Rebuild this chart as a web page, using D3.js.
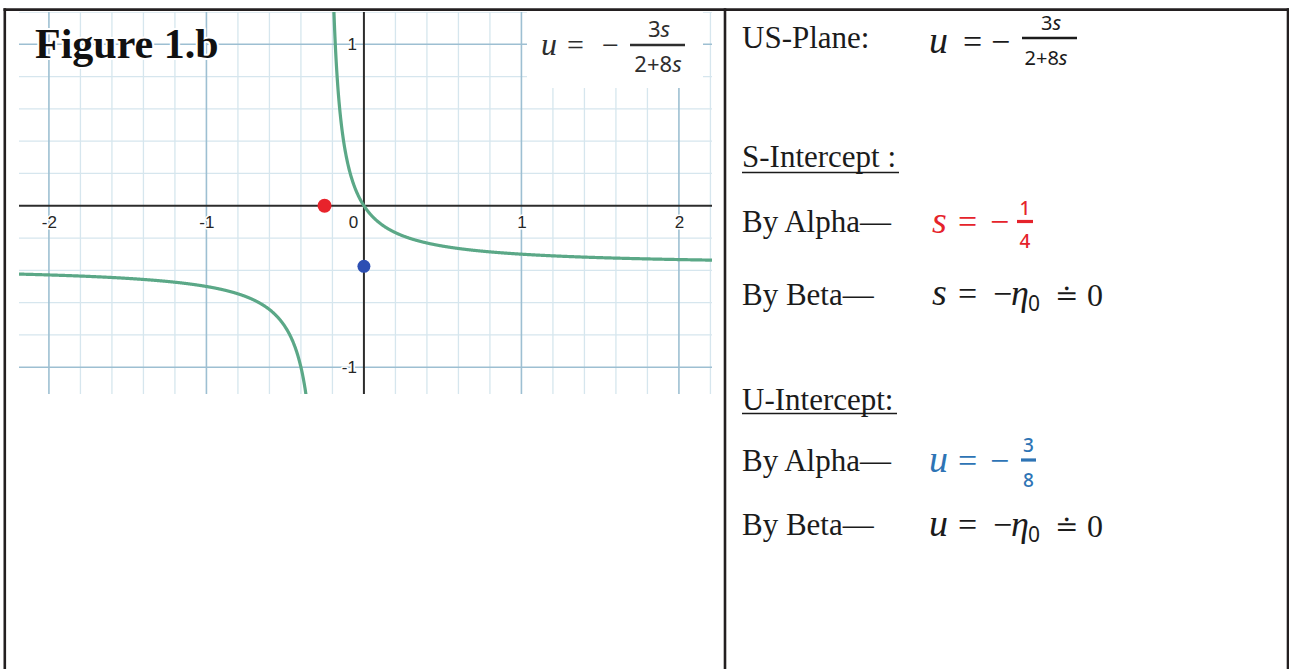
<!DOCTYPE html>
<html>
<head>
<meta charset="utf-8">
<script src="https://cdn.jsdelivr.net/npm/d3@7"></script>
<style>
  html, body { margin: 0; padding: 0; background: #fff; }
  svg { display: block; }
</style>
</head>
<body>
<svg id="fig" width="1289" height="669"></svg>
<script>
// ---- plot window and ticks ----
const sDomain = [-2.19, 2.21];
const uDomain = [-1.166, 1.2];
const sMajorTicks = [-2, -1, 0, 1, 2];
const uMajorTicks = [-1, 1];
const gridStep = 0.2;

// ---- curve u = -(a s) / (b + c s) ----
const numCoef = [3];      // 3s
const denCoef = [2, 8];   // 2 + 8s

// ---- intercepts found by the two methods ----
const sInterceptAlpha = [-1 / 4];
const uInterceptAlpha = [-3 / 8];

const COL = {
  text: "#1b1b1b",
  red: "#e5232b",
  blue: "#2e74b5",
  curve: "#5ba887",
  dotRed: "#e8232b",
  dotBlue: "#2d4fb3",
  gridMajor: "#9dbfd2",
  gridMinor: "#d6e6ee",
  axis: "#2c2c2c",
  border: "#231f20"
};
const SERIF = "'Liberation Serif', 'Times New Roman', serif";
const SANS = "'Liberation Sans', Arial, sans-serif";
const FRAC = "'Noto Sans', 'Open Sans', sans-serif";

const svg = d3.select("#fig");
const plot = { left: 19, right: 712, top: 12, bottom: 394 };

const x = d3.scaleLinear().domain(sDomain).range([plot.left, plot.right]);
const y = d3.scaleLinear().domain(uDomain).range([plot.bottom, plot.top]);

svg.append("defs").append("clipPath").attr("id", "plotClip")
  .append("rect")
  .attr("x", plot.left).attr("y", plot.top)
  .attr("width", plot.right - plot.left).attr("height", plot.bottom - plot.top);

const plotG = svg.append("g").attr("clip-path", "url(#plotClip)");

// ---- grid ----
const sLines = d3.range(-12, 13).map(i => +(i * gridStep).toFixed(2))
  .filter(v => v >= sDomain[0] && v <= sDomain[1]);
const uLines = d3.range(-6, 7).map(i => +(i * gridStep).toFixed(2))
  .filter(v => v >= uDomain[0] && v <= uDomain[1]);
const isMajor = v => Math.abs(v - Math.round(v)) < 1e-6;

const gridG = plotG.append("g");
gridG.selectAll("line.vmin").data(sLines.filter(v => !isMajor(v))).join("line")
  .attr("x1", d => x(d)).attr("x2", d => x(d))
  .attr("y1", plot.top).attr("y2", plot.bottom)
  .attr("stroke", COL.gridMinor).attr("stroke-width", 1.3);
gridG.selectAll("line.hmin").data(uLines.filter(v => !isMajor(v))).join("line")
  .attr("y1", d => y(d)).attr("y2", d => y(d))
  .attr("x1", plot.left).attr("x2", plot.right)
  .attr("stroke", COL.gridMinor).attr("stroke-width", 1.3);
gridG.selectAll("line.vmaj").data(sLines.filter(v => isMajor(v) && v !== 0)).join("line")
  .attr("x1", d => x(d)).attr("x2", d => x(d))
  .attr("y1", plot.top).attr("y2", plot.bottom)
  .attr("stroke", COL.gridMajor).attr("stroke-width", 1.6);
gridG.selectAll("line.hmaj").data(uLines.filter(v => isMajor(v) && v !== 0)).join("line")
  .attr("y1", d => y(d)).attr("y2", d => y(d))
  .attr("x1", plot.left).attr("x2", plot.right)
  .attr("stroke", COL.gridMajor).attr("stroke-width", 1.6);

// white panel behind the formula in the corner
plotG.append("rect")
  .attr("x", 527).attr("y", plot.top).attr("width", 176).attr("height", 76)
  .attr("fill", "#fff");

// ---- axes ----
plotG.append("line")
  .attr("x1", plot.left).attr("x2", plot.right)
  .attr("y1", y(0)).attr("y2", y(0))
  .attr("stroke", COL.axis).attr("stroke-width", 2);
plotG.append("line")
  .attr("x1", x(0)).attr("x2", x(0))
  .attr("y1", plot.top).attr("y2", plot.bottom)
  .attr("stroke", COL.axis).attr("stroke-width", 2);

// ---- curve, two branches either side of the pole ----
const u = s => -(numCoef[0] * s) / (denCoef[0] + denCoef[1] * s);
const pole = -denCoef[0] / denCoef[1];
const step = 0.002;
const leftBranch = d3.range(sDomain[0], pole - step / 2, step)
  .map(s => [s, u(s)]).filter(p => Math.abs(p[1]) < 4);
const rightBranch = d3.range(pole + step, sDomain[1] + step, step)
  .map(s => [s, u(s)]).filter(p => Math.abs(p[1]) < 4);
const line = d3.line().x(d => x(d[0])).y(d => y(d[1]));
plotG.selectAll("path.curve").data([leftBranch, rightBranch]).join("path")
  .attr("d", line)
  .attr("fill", "none")
  .attr("stroke", COL.curve)
  .attr("stroke-width", 3.2)
  .attr("stroke-linejoin", "round");

// ---- intercept points ----
plotG.selectAll("circle.sInt").data(sInterceptAlpha).join("circle")
  .attr("cx", d => x(d)).attr("cy", y(0)).attr("r", 7)
  .attr("fill", COL.dotRed);
plotG.selectAll("circle.uInt").data(uInterceptAlpha).join("circle")
  .attr("cx", x(0)).attr("cy", d => y(d)).attr("r", 6.5)
  .attr("fill", COL.dotBlue);

// ---- tick labels ----
const tickStyle = sel => sel
  .style("font-family", SANS).style("font-size", "17px")
  .style("fill", "#262626")
  .style("stroke", "#fff").style("stroke-width", "3px")
  .style("stroke-linejoin", "round").style("paint-order", "stroke");

const xAxisG = svg.append("g")
  .attr("transform", `translate(0,${y(0)})`)
  .call(d3.axisBottom(x).tickValues(sMajorTicks).tickSize(0).tickPadding(10)
    .tickFormat(d => String(d)));
xAxisG.select(".domain").remove();
xAxisG.selectAll("text").call(tickStyle);
xAxisG.selectAll(".tick").filter(d => d === 0).select("text").attr("dx", -11);

const yAxisG = svg.append("g")
  .attr("transform", `translate(${x(0)},0)`)
  .call(d3.axisLeft(y).tickValues(uMajorTicks).tickSize(0).tickPadding(7)
    .tickFormat(d => String(d)));
yAxisG.select(".domain").remove();
yAxisG.selectAll("text").call(tickStyle);

// ---- figure title ----
svg.append("text")
  .attr("x", 35).attr("y", 58)
  .attr("font-family", SERIF).attr("font-weight", "bold").attr("font-size", 42)
  .attr("fill", "#111")
  .text("Figure 1.b")
  .call(sel => sel.attr("stroke", "#fff").attr("stroke-width", 4)
    .attr("stroke-linejoin", "round").attr("paint-order", "stroke"));

// ---- helpers for typeset math ----
function put(xp, yp, str, o = {}) {
  return svg.append("text")
    .attr("x", xp).attr("y", yp)
    .attr("font-family", o.family || SERIF)
    .attr("font-size", o.size || 31)
    .attr("font-style", o.italic ? "italic" : "normal")
    .attr("font-weight", o.weight || "normal")
    .attr("text-anchor", o.anchor || "start")
    .attr("fill", o.color || COL.text)
    .text(str);
}
function fracText(xp, yp, parts, o) {
  // parts: [[text, italic], ...]
  const t = svg.append("text")
    .attr("x", xp).attr("y", yp)
    .attr("font-family", FRAC)
    .attr("font-size", o.size)
    .attr("font-weight", o.weight || "normal")
    .attr("text-anchor", o.anchor || "middle")
    .attr("fill", o.color || COL.text);
  parts.forEach(([s, it]) => t.append("tspan")
    .attr("font-style", it ? "italic" : "normal").text(s));
  return t;
}
function bar(x0, x1, yb, color, w) {
  svg.append("line")
    .attr("x1", x0).attr("x2", x1).attr("y1", yb).attr("y2", yb)
    .attr("stroke", color || COL.text).attr("stroke-width", w || 2.4);
}

// ---- formula inside the plot ----
const gEq = "#2e2e2e";
put(541, 55, "u", { italic: true, size: 32, color: gEq });
put(567, 55, "=", { size: 30, color: gEq });
put(602, 55, "\u2212", { size: 30, color: gEq });
bar(630, 685, 45, gEq, 2.6);
fracText(659, 37, [["3", false], ["s", true]], { size: 22, color: gEq });
fracText(658, 72, [["2+8", false], ["s", true]], { size: 22, color: gEq });

// ---- side panel ----
const LX = 742;

put(LX, 48, "US-Plane:");
put(929, 53, "u", { italic: true, size: 38 });
put(963, 53, "=", { size: 34 });
put(991, 53, "\u2212", { size: 34 });
bar(1022, 1077, 38, COL.text, 2.6);
fracText(1051, 30, [["3", false], ["s", true]], { size: 20 });
fracText(1046, 65, [["2+8", false], ["s", true]], { size: 20 });

put(LX, 167, "S-Intercept :");
svg.append("line").attr("x1", LX).attr("x2", 899).attr("y1", 172.5).attr("y2", 172.5)
  .attr("stroke", COL.text).attr("stroke-width", 1.5);

put(LX, 232, "By Alpha\u2014");
put(932, 233, "s", { italic: true, size: 38, color: COL.red });
put(958, 233, "=", { size: 34, color: COL.red });
put(990, 233, "\u2212", { size: 34, color: COL.red });
bar(1017, 1033, 221.5, COL.red, 3.2);
fracText(1025, 215, [["1", false]], { size: 19, color: COL.red, weight: 500 });
fracText(1025, 248, [["4", false]], { size: 19, color: COL.red, weight: 500 });

put(LX, 305, "By Beta\u2014");
put(932, 305, "s", { italic: true, size: 38 });
put(958, 305, "=", { size: 34 });
put(993, 305, "\u2212", { size: 34 });
put(1011, 305, "\u03B7", { italic: true, size: 36 });
put(1028, 311, "0", { size: 21, family: FRAC });
put(1055, 305, "\u2250", { size: 28, family: "'DejaVu Serif', serif" });
put(1087, 306, "0", { size: 32 });

put(LX, 410, "U-Intercept:");
svg.append("line").attr("x1", LX).attr("x2", 897).attr("y1", 413.5).attr("y2", 413.5)
  .attr("stroke", COL.text).attr("stroke-width", 1.5);

put(LX, 471, "By Alpha\u2014");
put(929, 472, "u", { italic: true, size: 38, color: COL.blue });
put(958, 472, "=", { size: 34, color: COL.blue });
put(990, 472, "\u2212", { size: 34, color: COL.blue });
bar(1021, 1036, 460, COL.blue, 3.2);
fracText(1028.5, 452, [["3", false]], { size: 19, color: COL.blue, weight: 500 });
fracText(1028.5, 487, [["8", false]], { size: 19, color: COL.blue, weight: 500 });

put(LX, 535, "By Beta\u2014");
put(929, 536, "u", { italic: true, size: 38 });
put(958, 536, "=", { size: 34 });
put(993, 536, "\u2212", { size: 34 });
put(1011, 536, "\u03B7", { italic: true, size: 36 });
put(1028, 542, "0", { size: 21, family: FRAC });
put(1055, 536, "\u2250", { size: 28, family: "'DejaVu Serif', serif" });
put(1087, 537, "0", { size: 32 });

// ---- table rules ----
const border = (x1, y1, x2, y2) => svg.append("line")
  .attr("x1", x1).attr("y1", y1).attr("x2", x2).attr("y2", y2)
  .attr("stroke", COL.border).attr("stroke-width", 2.6);
border(3.5, 9.6, 1289, 9.6);
border(4.8, 8.3, 4.8, 669);
border(725, 8.3, 725, 669);
border(1288, 8.3, 1288, 669);
</script>
</body>
</html>
